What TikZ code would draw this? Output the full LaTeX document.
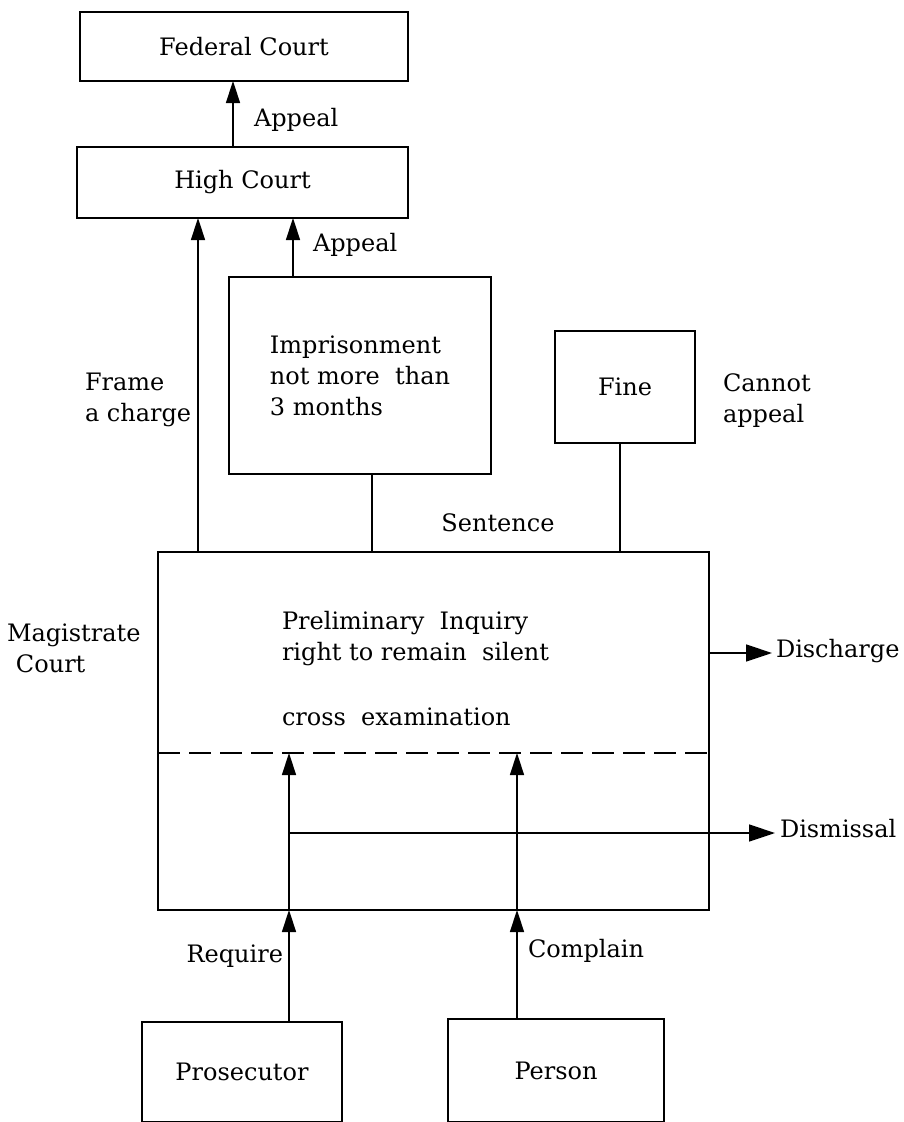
\documentclass[tikz,border=0pt]{standalone}
\usepackage{fontspec}
\setmainfont{DejaVu Serif}
\usetikzlibrary{arrows.meta}
\begin{document}
\begin{tikzpicture}[x=1pt,y=-1pt,
  txt/.style={font=\fontsize{24}{31}\selectfont, inner sep=0pt, outer sep=0pt},
  box/.style={txt, draw, line width=1.8pt, align=left},
  conn/.style={line width=1.5pt},
  arr/.style={conn, -{Triangle[length=22pt,width=14pt]}},
  wide arr/.style={conn, -{Triangle[length=26pt,width=17pt]}},
  dashline/.style={line width=2.4pt, dash pattern=on 22pt off 9pt}]
\useasboundingbox (0,0) rectangle (903,1122);

% courts and sentences
\node[box, minimum width=328pt, minimum height=69pt] (fed) at (244,46.5) {Federal Court};
\node[box, minimum width=331pt, minimum height=71pt] (high) at (242.5,182.5) {High Court};
\node[box, minimum width=262pt, minimum height=197pt] (imp) at (360,375.5)
  {Imprisonment\\not more\ \ than\\3 months};
\node[box, minimum width=140pt, minimum height=112pt] (fine) at (625,387) {Fine};
\node[box, minimum width=551pt, minimum height=358pt] (mag) at (433.5,731) {};
\node[box, minimum width=200pt, minimum height=100pt] (pros) at (242,1072) {Prosecutor};
\node[box, minimum width=216pt, minimum height=103pt] (pers) at (556,1070.5) {Person};

% text inside the magistrate court box
\node[txt, align=left, anchor=west] (inq) at (282,669)
  {Preliminary\ \ Inquiry\\right to remain\ \ silent\\[34pt]cross\ \ examination};

% labels
\node[txt, anchor=mid west] (lapp1) at (254,124) {Appeal};
\node[txt, anchor=mid west] (lapp2) at (313,249) {Appeal};
\node[txt, align=left, anchor=west] (lframe) at (85,400) {Frame\\a charge};
\node[txt, align=left, anchor=west] (lcannot) at (723,401) {Cannot\\appeal};
\node[txt, anchor=mid] (lsent) at (498,529) {Sentence};
\node[txt, align=left, anchor=west] (lmag) at (7,648) {Magistrate\\\hspace{9pt}Court};
\node[txt, anchor=mid west] (disc) at (776,655) {Discharge};
\node[txt, anchor=mid west] (dism) at (780,835) {Dismissal};
\node[txt, anchor=mid east] (lreq) at (283,960) {Require};
\node[txt, anchor=mid west] (lcomp) at (528,955) {Complain};

% x positions of the vertical connectors, y of the dashed divider
\coordinate (xa) at (233,0);
\coordinate (xb) at (198,0);
\coordinate (xc) at (293,0);
\coordinate (xd) at (372,0);
\coordinate (xe) at (620,0);
\coordinate (xf) at (289,0);
\coordinate (xg) at (517,0);
\coordinate (ydash) at (0,753);
\coordinate (ydisc) at (0,653);
\coordinate (ydism) at (0,833);

% connectors
\draw[arr] (high.north -| xa) -- (fed.south -| xa);
\draw[arr] (mag.north -| xb) -- (high.south -| xb);
\draw[arr] (imp.north -| xc) -- (high.south -| xc);
\draw[conn] (mag.north -| xd) -- (imp.south -| xd);
\draw[conn] (mag.north -| xe) -- (fine.south -| xe);

\draw[dashline] (mag.west |- ydash) -- (mag.east |- ydash);

\draw[arr] (pros.north -| xf) -- (mag.south -| xf);
\draw[arr] (mag.south -| xf) -- (xf |- ydash);
\draw[arr] (pers.north -| xg) -- (mag.south -| xg);
\draw[arr] (mag.south -| xg) -- (xg |- ydash);

\draw[wide arr] (xf |- ydism) -- ([xshift=-5pt]dism.west |- ydism);
\draw[wide arr] (mag.east |- ydisc) -- ([xshift=-4pt]disc.west |- ydisc);
\end{tikzpicture}
\end{document}
